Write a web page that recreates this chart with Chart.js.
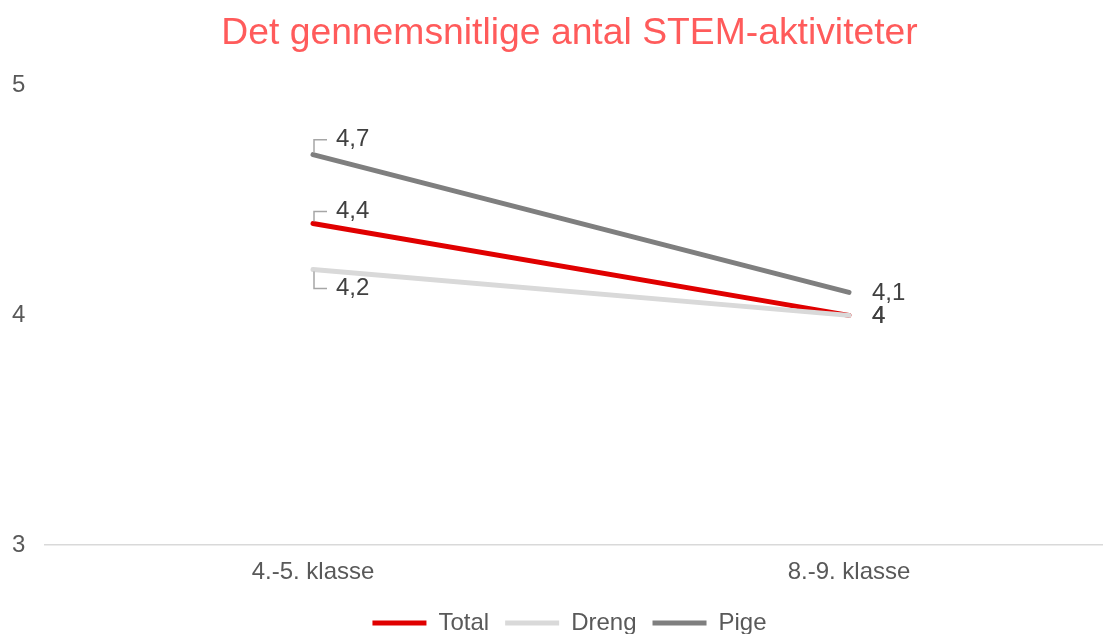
<!DOCTYPE html>
<html>
<head>
<meta charset="utf-8">
<script src="https://cdn.jsdelivr.net/npm/chart.js@4.4.1/dist/chart.umd.min.js"></script>
<style>
  html, body { margin: 0; padding: 0; background: #ffffff; overflow: hidden; }
  #wrap { position: absolute; left: 0; top: 0; width: 1103px; height: 634px; overflow: hidden; }
</style>
</head>
<body>
<div id="wrap">
  <canvas id="GraphiqueStem" width="1117" height="657"></canvas>
</div>
<script>
// data
var categories = ['4.-5. klasse', '8.-9. klasse'];
var seriesNames = ['Total', 'Dreng', 'Pige'];
var totalValues = [4.4, 4];
var drengValues = [4.2, 4];
var pigeValues = [4.7, 4.1];
var yMin = 3;
var yMax = 5;
var yStep = 1;

var couleurs = ['#E00000', '#D9D9D9', '#7F7F7F'];

Chart.defaults.font.family = "'Liberation Sans', Arial, sans-serif";
Chart.defaults.color = '#595959';

function formatValeur(v) {
    return String(v).replace('.', ',');
}

// callout labels like the Excel ones
var calloutPlugin = {
    id: 'callouts',
    afterDatasetsDraw: function (chart, args, opts) {
        var ctx = chart.ctx;
        ctx.save();
        ctx.font = '24px ' + Chart.defaults.font.family;
        ctx.textAlign = 'left';
        ctx.textBaseline = 'middle';
        chart.data.datasets.forEach(function (ds, di) {
            var meta = chart.getDatasetMeta(di);
            meta.data.forEach(function (pt, i) {
                var off = opts.offsets[di][i];
                var ty = pt.y + off.dy;
                if (off.leader) {
                    var s = off.dy < 0 ? -1 : 1;
                    ctx.strokeStyle = '#A6A6A6';
                    ctx.lineWidth = 1.5;
                    ctx.beginPath();
                    ctx.moveTo(pt.x + 1, pt.y + s * 2);
                    ctx.lineTo(pt.x + 1, ty);
                    ctx.lineTo(pt.x + 14, ty);
                    ctx.stroke();
                }
                ctx.fillStyle = '#404040';
                ctx.fillText(formatValeur(ds.data[i]), pt.x + off.dx, ty);
            });
        });
        ctx.restore();
    }
};

var ctx = document.getElementById('GraphiqueStem').getContext('2d');

var grafique = new Chart(ctx, {
    type: 'line',
    data: {
        labels: categories,
        datasets: [
            { label: seriesNames[0], data: totalValues, borderColor: couleurs[0], backgroundColor: couleurs[0], borderWidth: 5, order: 3 },
            { label: seriesNames[1], data: drengValues, borderColor: couleurs[1], backgroundColor: couleurs[1], borderWidth: 5, order: 2 },
            { label: seriesNames[2], data: pigeValues, borderColor: couleurs[2], backgroundColor: couleurs[2], borderWidth: 5, order: 1 }
        ]
    },
    options: {
        responsive: false,
        animation: false,
        layout: { padding: { left: 22, right: 0, top: 0, bottom: 12 } },
        elements: {
            line: { borderWidth: 5, borderCapStyle: 'round', tension: 0 },
            point: { radius: 0, hoverRadius: 0 }
        },
        scales: {
            x: {
                offset: true,
                grid: { display: false, drawTicks: false },
                border: { display: true, color: '#D9D9D9', width: 1.5 },
                ticks: { padding: 13, color: '#595959', font: { size: 24 } },
                afterFit: function (axis) { axis.height = 50; }
            },
            y: {
                min: yMin,
                max: yMax,
                grid: { display: false, drawTicks: false },
                border: { display: false },
                ticks: { stepSize: yStep, mirror: true, padding: -33, color: '#595959', font: { size: 24 } },
                afterFit: function (axis) { axis.width = 23; }
            }
        },
        plugins: {
            title: {
                display: true,
                text: 'Det gennemsnitlige antal STEM-aktiviteter',
                color: '#FF5B5B',
                font: { size: 37.3, weight: 'normal' },
                padding: { top: 11, bottom: 30 }
            },
            legend: {
                position: 'bottom',
                labels: {
                    usePointStyle: true,
                    pointStyle: 'line',
                    pointStyleWidth: 54,
                    padding: 16,
                    color: '#595959',
                    font: { size: 24 },
                    sort: function (a, b) { return a.datasetIndex - b.datasetIndex; }
                }
            },
            tooltip: { enabled: false },
            callouts: {
                offsets: [
                    [{ dx: 23, dy: -12, leader: true }, { dx: 23, dy: 1 }],
                    [{ dx: 23, dy: 19, leader: true }, { dx: 23, dy: 1 }],
                    [{ dx: 23, dy: -15, leader: true }, { dx: 23, dy: 1 }]
                ]
            }
        }
    },
    plugins: [calloutPlugin]
});
</script>
</body>
</html>
